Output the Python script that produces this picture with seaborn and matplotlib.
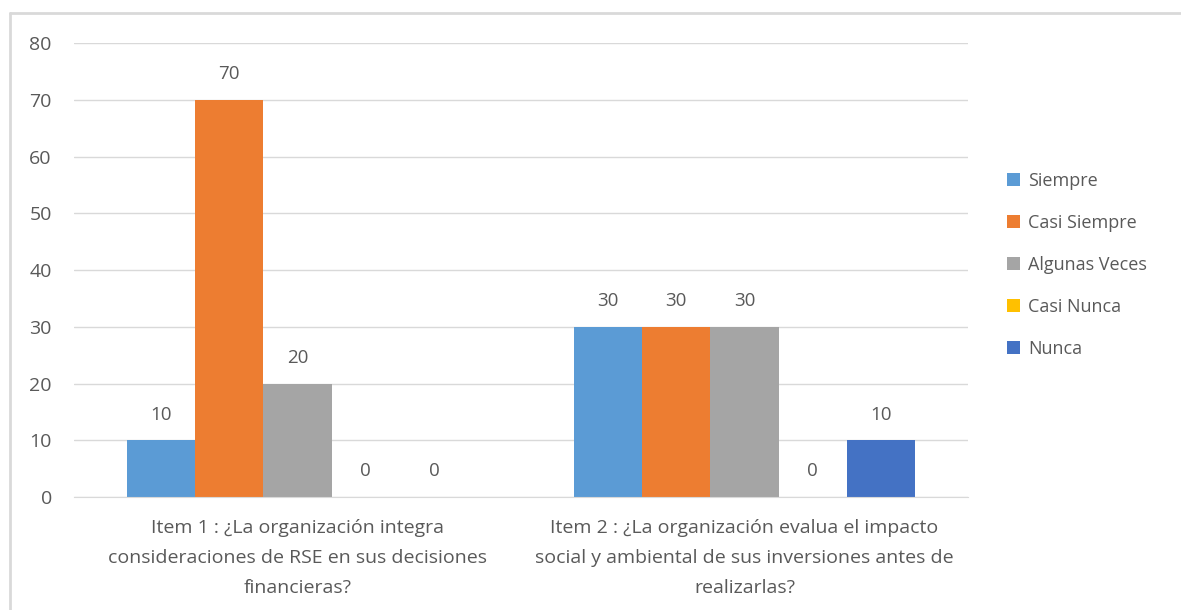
import matplotlib
matplotlib.use("Agg")
import matplotlib.pyplot as plt
from matplotlib.lines import Line2D
import seaborn as sns
import pandas as pd

# data
items = ["Item 1 : ¿La organización integra\nconsideraciones de RSE en sus decisiones\nfinancieras?",
         "Item 2 : ¿La organización evalua el impacto\nsocial y ambiental de sus inversiones antes de\nrealizarlas?"]
answers = ["Siempre", "Casi Siempre", "Algunas Veces", "Casi Nunca", "Nunca"]
item1 = [10, 70, 20, 0, 0]
item2 = [30, 30, 30, 0, 10]
colors = ["#5B9BD5", "#ED7D31", "#A5A5A5", "#FFC000", "#4472C4"]

rows = []
for a, v1, v2 in zip(answers, item1, item2):
    rows.append({"item": items[0], "answer": a, "value": v1})
    rows.append({"item": items[1], "answer": a, "value": v2})
df = pd.DataFrame(rows)

sns.set_style("white")
plt.rcParams['font.family'] = ['Open Sans', 'DejaVu Sans']
text_color = "#595959"
fs = 13

fig = plt.figure(figsize=(11.81, 6.10), dpi=100)
ax = fig.add_axes([0.0627, 0.1852, 0.7569, 0.7443])

sns.barplot(data=df, x="item", y="value", hue="answer", hue_order=answers,
            order=items, palette=colors, width=0.763, gap=0, saturation=1,
            linewidth=0, ax=ax, legend=True)

for c in ax.containers:
    ax.bar_label(c, labels=[f"{int(b.get_height())}" for b in c], padding=12,
                 fontsize=13.5, color=text_color)

ax.set_ylim(0, 80)
ax.set_xlim(-0.5, 1.5)
ax.set_yticks(range(0, 81, 10))
ax.yaxis.grid(True, color="#D9D9D9", linewidth=1)
ax.set_axisbelow(True)
for s in ["top", "right", "left"]:
    ax.spines[s].set_visible(False)
ax.spines["bottom"].set_color("#D9D9D9")
ax.tick_params(axis="both", length=0, colors=text_color)
ax.tick_params(axis="y", pad=16, labelsize=14)
ax.tick_params(axis="x", pad=16, labelsize=14)
for t in ax.get_xticklabels():
    t.set_linespacing(1.85)
ax.set_xlabel("")
ax.set_ylabel("")

handles, labels = ax.get_legend_handles_labels()
ax.get_legend().remove()
fig.legend(handles, labels, loc="center left", bbox_to_anchor=(0.839, 0.566),
           frameon=False, fontsize=fs, labelcolor=text_color,
           handlelength=0.7, handleheight=0.7, handletextpad=0.45,
           labelspacing=1.33)

# outer chart border like the original
fig.add_artist(Line2D([0.0085, 1.0], [0.9787, 0.9787], color="#D9D9D9", linewidth=2))
fig.add_artist(Line2D([0.0085, 0.0085], [0.0, 0.9787], color="#D9D9D9", linewidth=2))

fig.savefig("out.png", dpi=100)
